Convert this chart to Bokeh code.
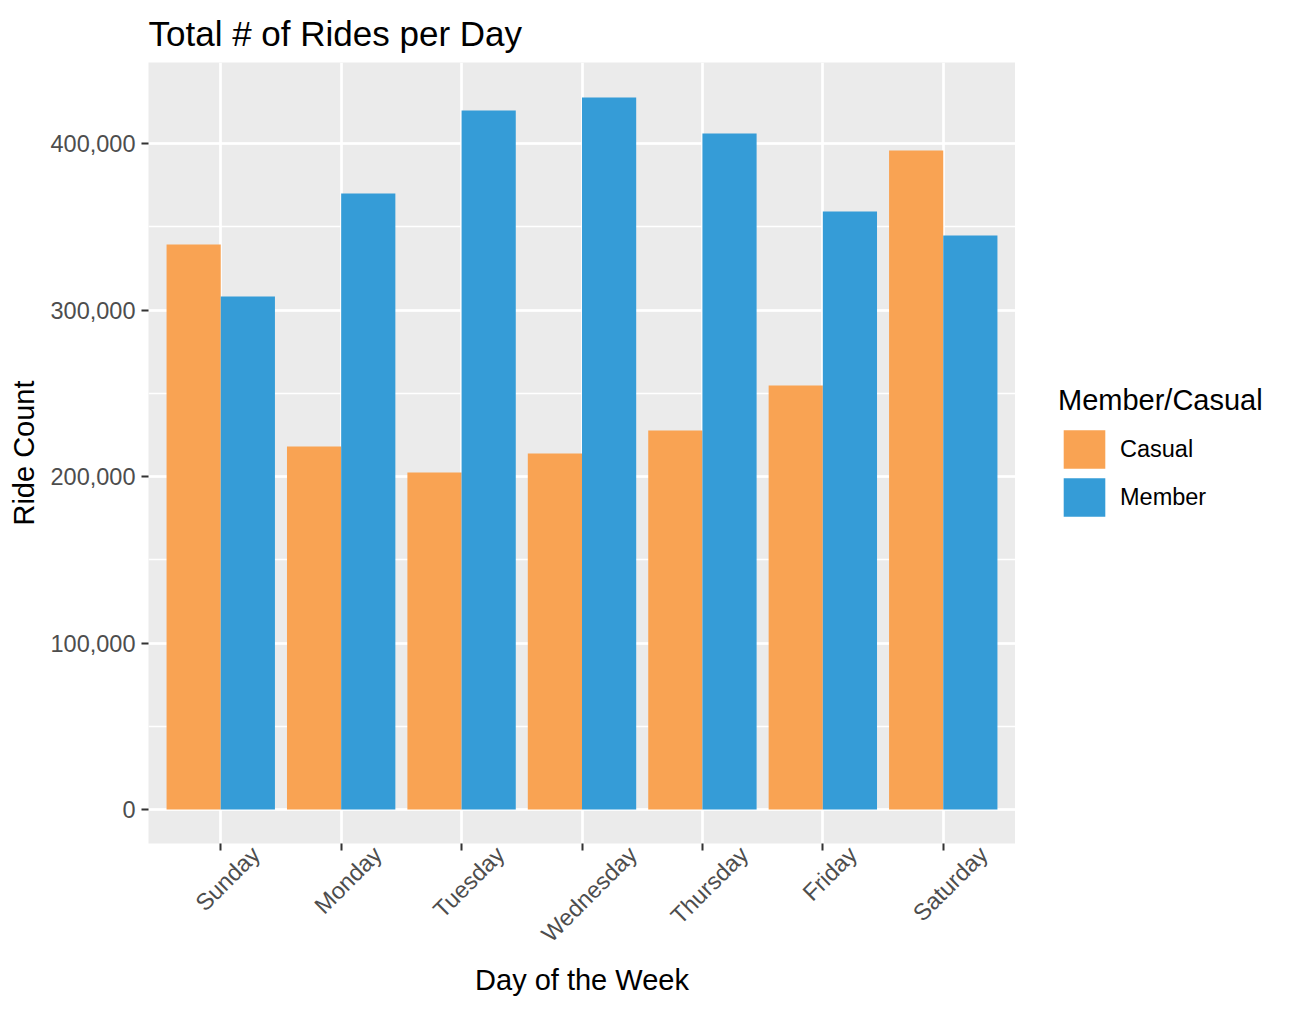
import math
from bokeh.plotting import figure
from bokeh.layouts import row
from bokeh.models import (ColumnDataSource, FixedTicker, SingleIntervalTicker, NumeralTickFormatter,
                          Legend, LegendItem, Range1d, CustomJSTickFormatter)
from bokeh.embed import file_html
from bokeh.resources import INLINE

# ---- data ----
days = ["Sunday", "Monday", "Tuesday", "Wednesday", "Thursday", "Friday", "Saturday"]
casual = [339300, 218000, 202400, 213800, 227600, 254700, 395800]
member = [308100, 370000, 419800, 427600, 406000, 359200, 344700]
series_names = ["Casual", "Member"]
series_colors = ["#F9A353", "#359CD7"]

FONT = "Liberation Sans"
Y_START, Y_END = -20400, 448650
X_START, X_END = 0.4, 7.6
BAR_W = 0.45
FRAME_W, FRAME_H = 867, 781
TICK_FONT_PX = 23.5

idx = [i + 1 for i in range(len(days))]
src = ColumnDataSource(dict(
    x_c=[i - BAR_W / 2 for i in idx],
    x_m=[i + BAR_W / 2 for i in idx],
    casual=casual,
    member=member,
))

p = figure(frame_width=FRAME_W, frame_height=FRAME_H, output_backend="svg", toolbar_location=None,
           x_range=Range1d(X_START, X_END), y_range=Range1d(Y_START, Y_END),
           min_border_left=148, min_border_right=0, min_border_top=62, min_border_bottom=167,
           title="Total # of Rides per Day")

p.background_fill_color = "#EBEBEB"
p.border_fill_color = "white"
p.outline_line_color = None

p.title.text_font = FONT
p.title.text_font_size = "35px"
p.title.text_font_style = "normal"
p.title.text_color = "black"
p.title.align = "left"
p.title.offset = 0
p.title.standoff = 20

r_c = p.vbar(x="x_c", top="casual", bottom=0, width=BAR_W, source=src,
             fill_color=series_colors[0], line_color=None)
r_m = p.vbar(x="x_m", top="member", bottom=0, width=BAR_W, source=src,
             fill_color=series_colors[1], line_color=None)

# grids
p.xgrid.ticker = FixedTicker(ticks=idx)
p.xgrid.grid_line_color = "white"
p.xgrid.grid_line_width = 2.7
yt = SingleIntervalTicker(interval=100000, num_minor_ticks=2)
p.yaxis.ticker = yt
p.ygrid.ticker = yt
p.ygrid.grid_line_color = "white"
p.ygrid.grid_line_width = 2.7
p.ygrid.minor_grid_line_color = "white"
p.ygrid.minor_grid_line_width = 1.3

# x axis: Bokeh anchors 45-degree labels at their right end, so the label positions
# are moved right by half of each label's rotated width to centre them under the ticks.
ARIAL_W = {"S": 667, "u": 556, "n": 556, "d": 556, "a": 556, "y": 500, "M": 833, "o": 556,
           "T": 611, "e": 556, "s": 500, "W": 944, "h": 556, "r": 333, "F": 611, "i": 222, "t": 278}
px_per_unit = FRAME_W / (X_END - X_START)
label_ticks = []
for i, d in zip(idx, days):
    w = sum(ARIAL_W.get(c, 556) for c in d) / 1000 * TICK_FONT_PX
    label_ticks.append(i + (7 + 0.354 * w) / px_per_unit)

xa = p.xaxis[0]
xa.ticker = FixedTicker(ticks=label_ticks, minor_ticks=idx)
xa.formatter = CustomJSTickFormatter(args=dict(names=days), code="return names[index];")
xa.major_label_orientation = math.pi / 4
xa.axis_line_color = None
xa.major_tick_line_color = None
xa.major_tick_out = 0
xa.major_tick_in = 0
xa.minor_tick_line_color = "#333333"
xa.minor_tick_line_width = 2
xa.minor_tick_out = 7
xa.minor_tick_in = 0
xa.major_label_standoff = 0
xa.major_label_text_font = FONT
xa.major_label_text_font_size = f"{TICK_FONT_PX}px"
xa.major_label_text_color = "#4D4D4D"
xa.axis_label = "Day of the Week"
xa.axis_label_text_font = FONT
xa.axis_label_text_font_size = "29px"
xa.axis_label_text_font_style = "normal"
xa.axis_label_text_color = "black"
xa.axis_label_standoff = 5

# y axis
ya = p.yaxis[0]
ya.axis_line_color = None
ya.major_tick_line_color = "#333333"
ya.major_tick_line_width = 2
ya.major_tick_out = 7
ya.major_tick_in = 0
ya.minor_tick_line_color = None
ya.formatter = NumeralTickFormatter(format="0,0")
ya.major_label_text_font = FONT
ya.major_label_text_font_size = f"{TICK_FONT_PX}px"
ya.major_label_text_color = "#4D4D4D"
ya.major_label_standoff = 6
ya.axis_label = "Ride Count"
ya.axis_label_text_font = FONT
ya.axis_label_text_font_size = "29px"
ya.axis_label_text_font_style = "normal"
ya.axis_label_text_color = "black"
ya.axis_label_standoff = 8

# legend lives in a narrow companion figure to the right of the panel;
# its key renderers reuse the same data but are hidden (only the legend keys show)
lf = figure(width=281, height=1010, output_backend="svg", toolbar_location=None,
            x_range=Range1d(X_START, X_END), y_range=Range1d(Y_START, Y_END), min_border=0)
lf.axis.visible = False
lf.grid.visible = False
lf.outline_line_color = None
lf.background_fill_color = "white"
lf.border_fill_color = "white"
key_c = lf.vbar(x="x_c", top="casual", bottom=0, width=BAR_W, source=src,
                fill_color=series_colors[0], line_color=None, visible=False)
key_m = lf.vbar(x="x_m", top="member", bottom=0, width=BAR_W, source=src,
                fill_color=series_colors[1], line_color=None, visible=False)

legend = Legend(items=[LegendItem(label=series_names[0], renderers=[key_c]),
                       LegendItem(label=series_names[1], renderers=[key_m])],
                title="Member/Casual", location=(43, 322))
legend.title_text_font = FONT
legend.title_text_font_size = "29px"
legend.title_text_font_style = "normal"
legend.title_text_color = "black"
legend.title_standoff = 8
legend.label_text_font = FONT
legend.label_text_font_size = "23.5px"
legend.label_text_color = "black"
legend.glyph_width = 52
legend.glyph_height = 48
legend.label_standoff = 10
legend.label_height = 46
legend.spacing = 0
legend.padding = 10
legend.margin = 0
legend.border_line_color = None
legend.background_fill_alpha = 0
lf.add_layout(legend)

layout = row(p, lf, spacing=0)
open("out.html", "w").write(file_html(layout, INLINE))
